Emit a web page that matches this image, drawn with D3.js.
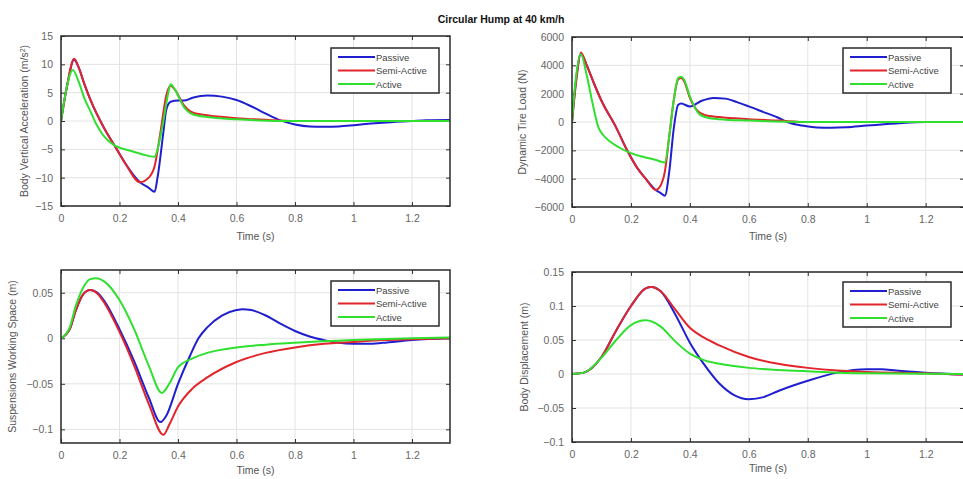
<!DOCTYPE html>
<html>
<head>
<meta charset="utf-8">
<script src="https://cdn.jsdelivr.net/npm/d3@7"></script>
<style>
  body { margin: 0; background: #fff; }
  svg { display: block; font-family: "Liberation Sans", Arial, sans-serif; }
</style>
</head>
<body>
<div id="chart"></div>
<script>
// series names shared by all four panels
var seriesNames = ["Passive", "Semi-Active", "Active"];

// --- Body vertical acceleration (m/s^2)
var accTimePassive = [0, 0.02, 0.045, 0.06, 0.08, 0.1, 0.15, 0.185, 0.22, 0.27, 0.3, 0.32, 0.33, 0.35, 0.36, 0.375, 0.4, 0.42, 0.45, 0.5, 0.55, 0.6, 0.65, 0.7, 0.75, 0.8, 0.85, 0.9, 0.95, 1.0, 1.05, 1.1, 1.2, 1.25, 1.335];
var accPassive = [0, 6, 10.8, 9.5, 6.5, 3.8, -1.5, -4.5, -7.5, -10.8, -11.8, -12.5, -10, -2, 2, 3.4, 3.6, 3.6, 4.1, 4.5, 4.3, 3.7, 2.6, 1.3, 0.1, -0.6, -0.95, -1.0, -0.95, -0.75, -0.5, -0.3, 0, 0.15, 0.2];
var accTimeSemi = [0, 0.02, 0.045, 0.06, 0.08, 0.1, 0.15, 0.185, 0.22, 0.27, 0.3, 0.32, 0.34, 0.36, 0.375, 0.39, 0.42, 0.45, 0.5, 0.6, 0.7, 0.8, 1.0, 1.335];
var accSemi = [0, 6, 11, 9.5, 6.5, 3.8, -1.5, -4.5, -7.5, -10.8, -10, -8, -2, 4.5, 6.2, 5.5, 2.8, 1.5, 1.0, 0.5, 0.2, 0, 0, 0];
var accTimeActive = [0, 0.02, 0.04, 0.06, 0.08, 0.1, 0.12, 0.14, 0.16, 0.18, 0.2, 0.24, 0.28, 0.32, 0.33, 0.35, 0.365, 0.375, 0.39, 0.42, 0.45, 0.5, 0.6, 0.8, 1.0, 1.335];
var accActive = [0, 6, 9, 7, 4, 1.8, -0.5, -2.2, -3.4, -4.2, -4.7, -5.3, -5.9, -6.3, -5, 0, 4.5, 6.5, 5.5, 2.5, 1.2, 0.7, 0.3, 0, 0, 0];
var accTicks = [-15, -10, -5, 0, 5, 10, 15];

// --- Dynamic tire load (N)
var tireTimePassive = [0, 0.015, 0.03, 0.05, 0.075, 0.1, 0.15, 0.187, 0.22, 0.25, 0.284, 0.3, 0.315, 0.33, 0.345, 0.36, 0.37, 0.4, 0.44, 0.48, 0.52, 0.56, 0.6, 0.65, 0.7, 0.73, 0.78, 0.83, 0.88, 0.93, 1.0, 1.1, 1.2, 1.335];
var tirePassive = [0, 3200, 4800, 4000, 2700, 1500, -400, -2000, -3200, -4000, -4800, -5000, -5200, -3500, -500, 1200, 1300, 1100, 1500, 1700, 1650, 1400, 1100, 700, 300, 0, -250, -380, -400, -370, -250, -100, 0, 0];
var tireTimeSemi = [0, 0.015, 0.03, 0.05, 0.075, 0.1, 0.15, 0.187, 0.22, 0.25, 0.284, 0.3, 0.315, 0.33, 0.345, 0.36, 0.37, 0.38, 0.4, 0.43, 0.45, 0.5, 0.6, 0.7, 0.8, 1.335];
var tireSemi = [0, 3000, 4900, 4000, 2700, 1500, -400, -2000, -3200, -4000, -4800, -4500, -3500, -1000, 1500, 3000, 3100, 2900, 1700, 700, 500, 350, 200, 100, 0, 0];
var tireTimeActive = [0, 0.01, 0.03, 0.05, 0.07, 0.09, 0.105, 0.13, 0.16, 0.2, 0.24, 0.28, 0.315, 0.33, 0.345, 0.36, 0.37, 0.38, 0.4, 0.43, 0.46, 0.5, 0.6, 0.8, 1.335];
var tireActive = [0, 2500, 4800, 3300, 1300, -400, -900, -1400, -1800, -2200, -2450, -2650, -2850, -1000, 1500, 3100, 3200, 3000, 1800, 600, 300, 200, 100, 0, 0];
var tireTicks = [-6000, -4000, -2000, 0, 2000, 4000, 6000];

// --- Suspension working space (m)
var swsTimePassive = [0, 0.03, 0.05, 0.075, 0.1, 0.125, 0.15, 0.2, 0.25, 0.3, 0.34, 0.36, 0.4, 0.44, 0.47, 0.5, 0.55, 0.6, 0.62, 0.65, 0.7, 0.75, 0.8, 0.85, 0.9, 0.95, 1.0, 1.05, 1.1, 1.2, 1.335];
var swsPassive = [0, 0.01, 0.03, 0.048, 0.053, 0.05, 0.04, 0.01, -0.025, -0.065, -0.092, -0.085, -0.05, -0.02, 0, 0.012, 0.025, 0.031, 0.032, 0.031, 0.025, 0.016, 0.008, 0.002, -0.002, -0.005, -0.006, -0.006, -0.005, -0.002, 0];
var swsTimeSemi = [0, 0.03, 0.05, 0.075, 0.1, 0.125, 0.15, 0.2, 0.25, 0.3, 0.35, 0.37, 0.4, 0.45, 0.5, 0.6, 0.7, 0.8, 0.9, 1.0, 1.1, 1.2, 1.335];
var swsSemi = [0, 0.01, 0.03, 0.048, 0.053, 0.049, 0.038, 0.007, -0.03, -0.072, -0.106, -0.095, -0.075, -0.055, -0.043, -0.026, -0.016, -0.01, -0.006, -0.004, -0.002, -0.001, 0];
var swsTimeActive = [0, 0.03, 0.05, 0.08, 0.1, 0.12, 0.15, 0.2, 0.25, 0.3, 0.345, 0.37, 0.4, 0.45, 0.5, 0.6, 0.7, 0.8, 1.0, 1.2, 1.335];
var swsActive = [0, 0.012, 0.035, 0.058, 0.065, 0.066, 0.062, 0.042, 0.01, -0.03, -0.06, -0.05, -0.032, -0.022, -0.016, -0.01, -0.007, -0.005, -0.002, 0, 0.001];
var swsTicks = [-0.1, -0.05, 0, 0.05];

// --- Body displacement (m)
var dispTimePassive = [0, 0.04, 0.1, 0.15, 0.2, 0.25, 0.27, 0.3, 0.35, 0.4, 0.45, 0.5, 0.55, 0.6, 0.65, 0.7, 0.8, 0.9, 1.0, 1.05, 1.1, 1.2, 1.335];
var dispPassive = [0, 0.002, 0.025, 0.064, 0.1, 0.126, 0.128, 0.122, 0.088, 0.046, 0.013, -0.014, -0.031, -0.037, -0.034, -0.025, -0.01, 0.002, 0.007, 0.007, 0.005, 0.002, -0.001];
var dispTimeSemi = [0, 0.04, 0.1, 0.15, 0.2, 0.25, 0.27, 0.3, 0.35, 0.4, 0.45, 0.5, 0.6, 0.7, 0.8, 0.9, 1.0, 1.2, 1.335];
var dispSemi = [0, 0.002, 0.025, 0.064, 0.1, 0.126, 0.128, 0.122, 0.095, 0.068, 0.053, 0.042, 0.025, 0.015, 0.009, 0.005, 0.003, 0.001, -0.001];
var dispTimeActive = [0, 0.04, 0.1, 0.15, 0.2, 0.25, 0.3, 0.35, 0.4, 0.45, 0.5, 0.6, 0.7, 0.8, 1.0, 1.335];
var dispActive = [0, 0.002, 0.024, 0.05, 0.072, 0.079, 0.07, 0.048, 0.03, 0.02, 0.015, 0.009, 0.006, 0.004, 0.001, 0];
var dispTicks = [-0.1, -0.05, 0, 0.05, 0.1, 0.15];

var timeTicks = [0, 0.2, 0.4, 0.6, 0.8, 1, 1.2];

var colors = ["#1f1fcf", "#e2242b", "#2fe02f"];

var svg = d3.select("#chart").append("svg")
    .attr("width", 963)
    .attr("height", 479);

svg.append("text")
    .attr("x", 501).attr("y", 23)
    .attr("text-anchor", "middle")
    .attr("font-size", 10.5)
    .attr("font-weight", "bold")
    .attr("fill", "#111")
    .text("Circular Hump at 40 km/h");

function zip(ts, vs) {
    return ts.map(function (t, i) { return [t, vs[i]]; });
}

function drawPanel(p) {
    var g = svg.append("g").attr("transform", "translate(" + p.left + "," + p.top + ")");
    var x = d3.scaleLinear().domain([0, 1.33]).range([0, p.width]);
    var y = d3.scaleLinear().domain(p.yDomain).range([p.height, 0]);

    var clipId = "clip" + p.id;
    g.append("clipPath").attr("id", clipId)
        .append("rect").attr("width", p.width).attr("height", p.height);

    g.append("rect").attr("width", p.width).attr("height", p.height).attr("fill", "#fff");

    // grid
    g.selectAll(".gx").data(timeTicks).enter().append("line")
        .attr("x1", d => x(d)).attr("x2", d => x(d))
        .attr("y1", 0).attr("y2", p.height)
        .attr("stroke", "#e3e3e3").attr("stroke-width", 1);
    g.selectAll(".gy").data(p.yTicks).enter().append("line")
        .attr("x1", 0).attr("x2", p.width)
        .attr("y1", d => y(d)).attr("y2", d => y(d))
        .attr("stroke", "#e3e3e3").attr("stroke-width", 1);

    // axes (MATLAB style, ticks inside on all sides)
    var axB = g.append("g").attr("transform", "translate(0," + p.height + ")")
        .call(d3.axisBottom(x).tickValues(timeTicks).tickSize(-4).tickPadding(9).tickFormat(d3.format("")));
    var axT = g.append("g")
        .call(d3.axisTop(x).tickValues(timeTicks).tickSize(-4).tickFormat(""));
    var axL = g.append("g")
        .call(d3.axisLeft(y).tickValues(p.yTicks).tickSize(-4).tickPadding(8).tickFormat(d3.format("")));
    var axR = g.append("g").attr("transform", "translate(" + p.width + ",0)")
        .call(d3.axisRight(y).tickValues(p.yTicks).tickSize(-4).tickFormat(""));
    [axB, axT, axL, axR].forEach(function (a) {
        a.select(".domain").remove();
        a.selectAll(".tick line").attr("stroke", "#333").attr("stroke-width", 1);
        a.selectAll("text").attr("fill", "#666").attr("font-size", 10.5)
            .attr("font-family", "Liberation Sans, Arial, sans-serif");
    });

    // series
    var line = d3.line().x(d => x(d[0])).y(d => y(d[1])).curve(d3.curveMonotoneX);
    var lines = g.append("g").attr("clip-path", "url(#" + clipId + ")");
    p.series.forEach(function (s, i) {
        lines.append("path")
            .datum(s)
            .attr("fill", "none")
            .attr("stroke", colors[i])
            .attr("stroke-width", 2)
            .attr("stroke-linejoin", "round")
            .attr("d", line);
    });

    // frame
    g.append("rect").attr("width", p.width).attr("height", p.height)
        .attr("fill", "none").attr("stroke", "#2a2a2a").attr("stroke-width", 1.5);

    // labels
    g.append("text")
        .attr("x", p.width / 2).attr("y", p.xLabelY)
        .attr("text-anchor", "middle").attr("font-size", 10.5).attr("fill", "#555")
        .text("Time (s)");
    var yl = g.append("text")
        .attr("transform", "translate(" + p.yLabelX + "," + (p.height / 2) + ") rotate(-90)")
        .attr("text-anchor", "middle").attr("font-size", 10.5).attr("fill", "#555");
    if (p.yLabelSup) {
        yl.append("tspan").text(p.yLabel);
        yl.append("tspan").attr("baseline-shift", "super").attr("font-size", 7).text(p.yLabelSup);
        yl.append("tspan").text(")");
    } else {
        yl.text(p.yLabel);
    }

    // legend
    var lg = g.append("g").attr("transform", "translate(" + p.legend[0] + "," + p.legend[1] + ")");
    lg.append("rect").attr("width", 108).attr("height", 45)
        .attr("fill", "#fff").attr("stroke", "#2a2a2a").attr("stroke-width", 1.5);
    seriesNames.forEach(function (n, i) {
        var yy = 9 + i * 13.5;
        lg.append("line").attr("x1", 7).attr("x2", 44).attr("y1", yy).attr("y2", yy)
            .attr("stroke", colors[i]).attr("stroke-width", 2);
        lg.append("text").attr("x", 45).attr("y", yy + 3.5)
            .attr("font-size", 9.5).attr("fill", "#444").text(n);
    });
}

drawPanel({
    id: 1, left: 61, top: 36, width: 389, height: 170,
    yDomain: [-15, 15], yTicks: accTicks,
    series: [zip(accTimePassive, accPassive), zip(accTimeSemi, accSemi), zip(accTimeActive, accActive)],
    yLabel: "Body Vertical Acceleration (m/s", yLabelSup: "2", yLabelX: -33, xLabelY: 204,
    legend: [270, 12]
});
drawPanel({
    id: 2, left: 572, top: 37, width: 392, height: 170,
    yDomain: [-6000, 6000], yTicks: tireTicks,
    series: [zip(tireTimePassive, tirePassive), zip(tireTimeSemi, tireSemi), zip(tireTimeActive, tireActive)],
    yLabel: "Dynamic Tire Load (N)", yLabelX: -46, xLabelY: 203,
    legend: [271, 11]
});
drawPanel({
    id: 3, left: 61, top: 270, width: 389, height: 173,
    yDomain: [-0.115, 0.075], yTicks: swsTicks,
    series: [zip(swsTimePassive, swsPassive), zip(swsTimeSemi, swsSemi), zip(swsTimeActive, swsActive)],
    yLabel: "Suspensions Working Space (m)", yLabelX: -45, xLabelY: 204,
    legend: [270, 11]
});
drawPanel({
    id: 4, left: 572, top: 272, width: 392, height: 170,
    yDomain: [-0.1, 0.15], yTicks: dispTicks,
    series: [zip(dispTimePassive, dispPassive), zip(dispTimeSemi, dispSemi), zip(dispTimeActive, dispActive)],
    yLabel: "Body Displacement (m)", yLabelX: -44, xLabelY: 200,
    legend: [271, 10]
});
</script>
</body>
</html>
